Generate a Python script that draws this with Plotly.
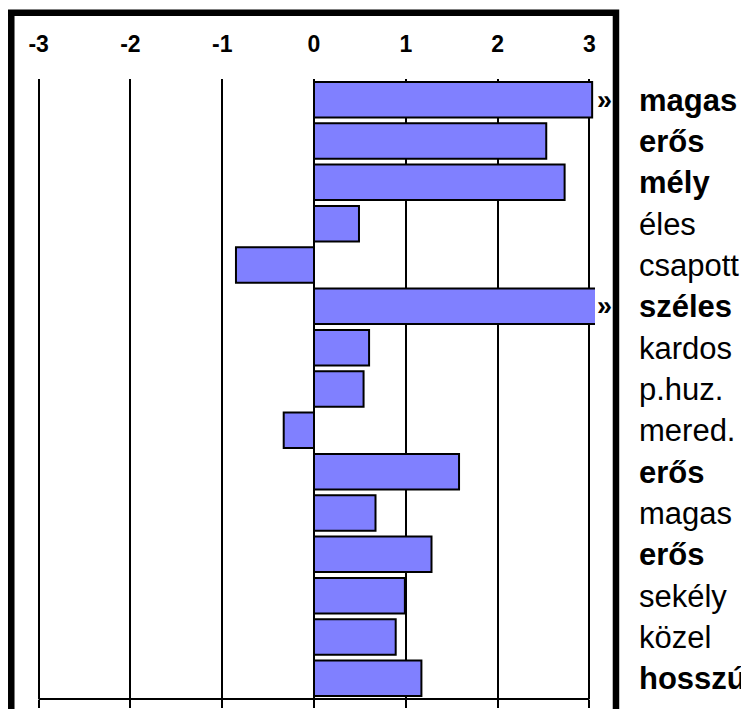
import plotly.graph_objects as go

labels = ["magas", "erős", "mély", "éles", "csapott", "széles", "kardos", "p.huz.",
          "mered.", "erős", "magas", "erős", "sekély", "közel", "hosszú"]
bold = [True, True, True, False, False, True, False, False,
        False, True, False, True, False, False, True]
values = [3.03, 2.53, 2.73, 0.49, -0.85, 3.5, 0.60, 0.54,
          -0.33, 1.58, 0.67, 1.28, 0.99, 0.89, 1.17]
x_ticks = [-3, -2, -1, 0, 1, 2, 3]
x_min, x_max = -3.268, 3.061

FONT = "Arial, Liberation Sans, sans-serif"
pos = list(range(len(labels)))
ticktext = [f"<b>{t}</b>" if b else t for t, b in zip(labels, bold)]

fig = go.Figure()
fig.add_trace(go.Bar(
    x=values, y=pos, orientation="h",
    marker=dict(color="#8080FF", line=dict(color="black", width=2)),
    hoverinfo="skip", showlegend=False,
))
# invisible trace for the bottom tick axis
fig.add_trace(go.Scatter(x=[0], y=[0], xaxis="x2", mode="markers",
                         marker=dict(opacity=0), hoverinfo="skip", showlegend=False))

fig.update_layout(
    template="none",
    width=741, height=701,
    margin=dict(l=6, r=154, t=71, b=10, autoexpand=False),
    paper_bgcolor="white", plot_bgcolor="white",
    bargap=0.14,
    font=dict(family=FONT, color="black"),
    xaxis=dict(
        range=[x_min, x_max], side="top", automargin=False,
        tickvals=x_ticks, ticktext=[str(v) for v in x_ticks],
        tickfont=dict(size=23, weight="bold", family=FONT, color="black"),
        ticks="", ticklabelstandoff=21,
        showgrid=True, gridcolor="black", gridwidth=1.7,
        zeroline=True, zerolinecolor="black", zerolinewidth=1.7,
        showline=False, fixedrange=True,
    ),
    xaxis2=dict(
        range=[x_min, x_max], overlaying="x", side="bottom", automargin=False,
        tickvals=x_ticks, showticklabels=False,
        ticks="outside", ticklen=8, tickwidth=1.7, tickcolor="black",
        showgrid=False, zeroline=False, showline=False,
    ),
    yaxis=dict(
        range=[len(labels) - 0.5, -0.5], side="right", automargin=False,
        tickvals=pos, ticktext=ticktext,
        tickfont=dict(size=31, family=FONT, color="black"),
        ticks="", ticklabelstandoff=43,
        showgrid=False, zeroline=False, showline=False,
    ),
    shapes=[
        # bottom axis line from first to last tick
        dict(type="line", xref="x", yref="paper", x0=x_ticks[0], x1=x_ticks[-1],
             y0=0, y1=0, line=dict(color="black", width=2)),
        # thick outer frame
        dict(type="rect", xref="paper", yref="paper",
             x0=-0.0047, x1=1.0361, y0=-0.2, y1=1.1069,
             line=dict(color="black", width=6.5), fillcolor="rgba(0,0,0,0)"),
    ],
)

ann = []
for i, v in enumerate(values):
    if v > x_ticks[-1]:
        ann.append(dict(xref="paper", yref="y", x=1.0, y=i, xanchor="left",
                        xshift=0, yanchor="middle", showarrow=False,
                        text="<b>»</b>", font=dict(size=27, family=FONT, color="black")))
fig.update_layout(annotations=ann)

fig.write_html("out.html")
